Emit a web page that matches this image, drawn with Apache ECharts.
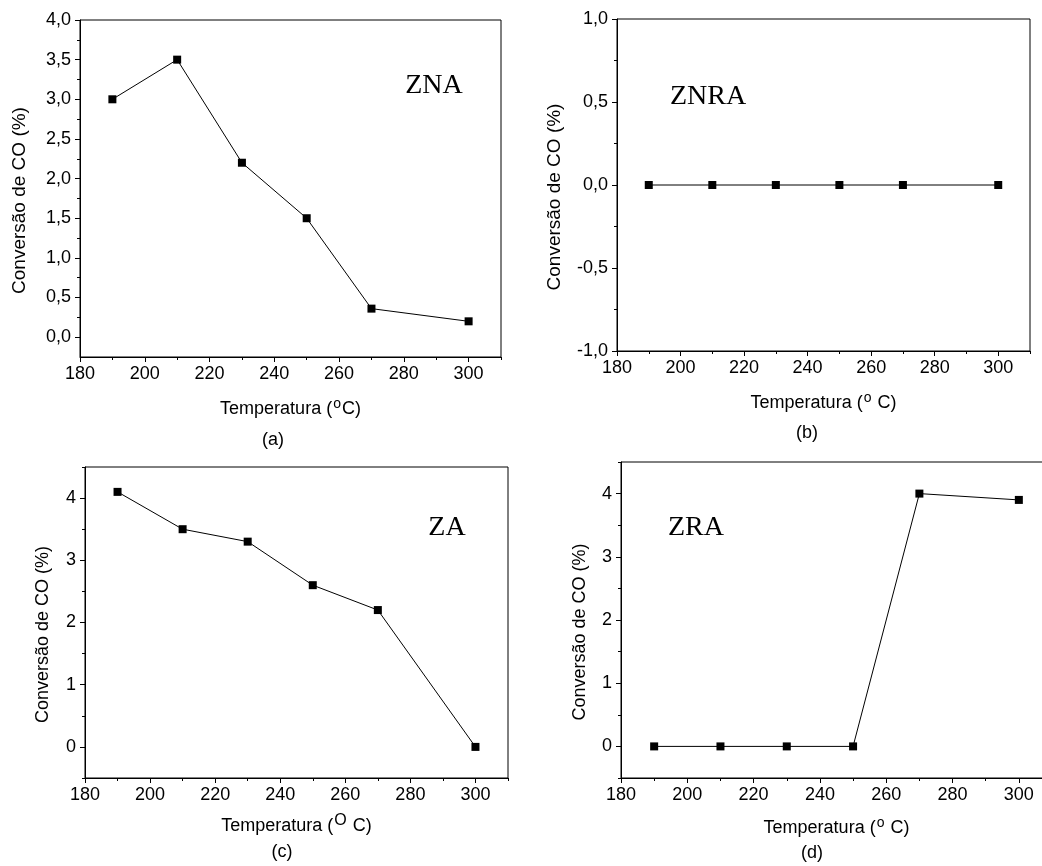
<!DOCTYPE html>
<html>
<head>
<meta charset="utf-8">
<script src="https://cdn.jsdelivr.net/npm/echarts@6/dist/echarts.min.js"></script>
<style>
html, body { margin: 0; padding: 0; background: #fff; }
#chart { width: 1042px; height: 866px; }
</style>
</head>
<body>
<div id="chart"></div>
<script>
// temperaturas (oC) e conversao de CO (%) por amostra
const temps = [190, 210, 230, 250, 270, 300]
const convZNA = [3.0, 3.5, 2.2, 1.5, 0.36, 0.2]
const convZNRA = [0, 0, 0, 0, 0, 0]
const convZA = [4.1, 3.5, 3.3, 2.6, 2.2, 0]
const convZRA = [0, 0, 0, 0, 4.0, 3.9]

// ticks
const xMajor = [180, 200, 220, 240, 260, 280, 300]
const xMinor = [190, 210, 230, 250, 270, 290, 310]
const yMajorA = [0, 0.5, 1, 1.5, 2, 2.5, 3, 3.5, 4]
const yMinorA = [0.25, 0.75, 1.25, 1.75, 2.25, 2.75, 3.25, 3.75]
const yMajorB = [-1, -0.5, 0, 0.5, 1]
const yMinorB = [-0.75, -0.25, 0.25, 0.75]
const yMajorCD = [0, 1, 2, 3, 4]
const yMinorCD = [-0.5, 0.5, 1.5, 2.5, 3.5, 4.5]

const FONT = 'Liberation Sans'
const yTitle = 'Conversão de CO (%)'

let dom = document.getElementById('chart')
let myChart = echarts.init(dom, null, {renderer: 'canvas'})

// um painel = grid + eixos principal/secundario (so para ticks menores)
let panels = [
  {grid: {left: 80, top: 20, width: 421, height: 337}, yMin: -0.25, yMax: 4,
   yMajor: yMajorA, yMinor: yMinorA, comma: true, yGap: 51, yFont: 19, xGap: 40,
   xName: 'Temperatura ({sup|o}C)', data: convZNA},
  {grid: {left: 617, top: 19, width: 413, height: 332}, yMin: -1, yMax: 1,
   yMajor: yMajorB, yMinor: yMinorB, comma: true, yGap: 53, yFont: 19, xGap: 40,
   xName: 'Temperatura ({sup|o} C)', data: convZNRA},
  {grid: {left: 85, top: 467, width: 423, height: 311}, yMin: -0.5, yMax: 4.5,
   yMajor: yMajorCD, yMinor: yMinorCD, comma: false, yGap: 33, yFont: 18, xGap: 35,
   xName: 'Temperatura ({supBig|O} C)', data: convZA},
  {grid: {left: 621, top: 462, width: 431, height: 316}, yMin: -0.5, yMax: 4.5,
   yMajor: yMajorCD, yMinor: yMinorCD, comma: false, yGap: 32, yFont: 18, xGap: 38,
   xName: 'Temperatura ({sup|o} C)', data: convZRA}
]

let grids = [], xAxes = [], yAxes = [], series = []

panels.forEach(function (p, i) {
  grids.push(Object.assign({
    show: true, borderColor: '#000', borderWidth: 1, backgroundColor: 'transparent',
    outerBoundsMode: 'none', containLabel: false
  }, p.grid))

  xAxes.push({
    type: 'value', gridIndex: i, position: 'bottom', min: 180, max: 310,
    axisLine: {onZero: false, lineStyle: {color: '#000', width: 1}},
    axisTick: {customValues: xMajor, length: 5, lineStyle: {color: '#000'}},
    axisLabel: {customValues: xMajor, color: '#000', fontSize: 18, fontFamily: FONT, margin: 8},
    splitLine: {show: false},
    name: p.xName, nameLocation: 'middle', nameGap: p.xGap,
    nameTextStyle: {
      color: '#000', fontSize: 18, fontFamily: FONT,
      rich: {
        sup: {fontSize: 14, fontFamily: FONT, color: '#000', padding: [0, 1, 10, 1]},
        supBig: {fontSize: 16, fontFamily: FONT, color: '#000', padding: [0, 1, 10, 1]}
      }
    }
  })
  xAxes.push({
    type: 'value', gridIndex: i, position: 'bottom', min: 180, max: 310,
    axisLine: {show: false, onZero: false},
    axisTick: {customValues: xMinor, length: 3, lineStyle: {color: '#000'}},
    axisLabel: {show: false},
    splitLine: {show: false}
  })

  yAxes.push({
    type: 'value', gridIndex: i, position: 'left', min: p.yMin, max: p.yMax,
    axisLine: {show: true, onZero: false, lineStyle: {color: '#000', width: 1}},
    axisTick: {show: true, customValues: p.yMajor, length: 5, lineStyle: {color: '#000'}},
    axisLabel: {
      customValues: p.yMajor, color: '#000', fontSize: 18, fontFamily: FONT, margin: 9,
      formatter: function (v) {
        return p.comma ? v.toFixed(1).replace('.', ',') : String(v)
      }
    },
    splitLine: {show: false},
    name: yTitle, nameLocation: 'middle', nameGap: p.yGap,
    // padding a direita empurra o titulo para baixo (texto rodado)
    nameTextStyle: {color: '#000', fontSize: p.yFont, fontFamily: FONT, padding: [0, 24, 0, 0]}
  })
  yAxes.push({
    type: 'value', gridIndex: i, position: 'left', min: p.yMin, max: p.yMax,
    axisLine: {show: false, onZero: false},
    axisTick: {show: true, customValues: p.yMinor, length: 3, lineStyle: {color: '#000'}},
    axisLabel: {show: false},
    splitLine: {show: false}
  })

  series.push({
    type: 'line', xAxisIndex: 2 * i, yAxisIndex: 2 * i,
    data: temps.map(function (t, k) { return [t, p.data[k]] }),
    symbol: 'rect', symbolSize: 8,
    lineStyle: {color: '#000', width: 1},
    itemStyle: {color: '#000'},
    z: 5
  })
})

function txt (x, y, s, size, family) {
  return {
    type: 'text', x: x, y: y, z: 10,
    style: {text: s, fill: '#000', font: size + 'px "' + family + '"', textAlign: 'center', textVerticalAlign: 'middle'}
  }
}

let option = {
  backgroundColor: '#fff',
  animation: false,
  grid: grids,
  xAxis: xAxes,
  yAxis: yAxes,
  series: series,
  graphic: [
    txt(434, 86, 'ZNA', 28, 'Liberation Serif'),
    txt(708, 97, 'ZNRA', 28, 'Liberation Serif'),
    txt(447, 528, 'ZA', 28, 'Liberation Serif'),
    txt(696, 528, 'ZRA', 28, 'Liberation Serif'),
    txt(273, 440, '(a)', 18, FONT),
    txt(807, 433, '(b)', 18, FONT),
    txt(282, 852, '(c)', 18, FONT),
    txt(812, 853, '(d)', 18, FONT)
  ]
}

myChart.setOption(option)
</script>
</body>
</html>
